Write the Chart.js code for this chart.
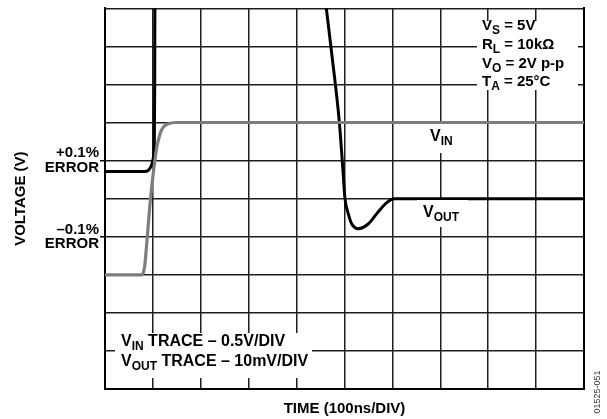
<!DOCTYPE html>
<html>
<head>
<meta charset="utf-8">
<script src="https://cdn.jsdelivr.net/npm/chart.js@4/dist/chart.umd.min.js"></script>
<style>
  html, body { margin: 0; padding: 0; background: #fff; }
  #wrap { width: 607px; height: 419px; }
</style>
</head>
<body>
<div id="wrap"><canvas id="c" width="607" height="419" style="width:607px;height:419px"></canvas></div>
<script>
// Input step (0.5 V/div): time in ns, level in volts
const vinTimeNs = [0, 76, 80, 83, 87, 95, 104, 108, 111, 116, 122, 131, 150, 1000];
const vinVolts  = [-1.0, -1.0, -0.97, -0.88, -0.6, 0, 0.5, 0.67, 0.76, 0.87, 0.94, 0.98, 1.0, 1.0];

// Output settling (10 mV/div): time in ns, error in mV relative to final value
// (values above 50 mV run off the top of the screen)
const voutTimeNs = [0, 83, 90, 95, 98.5, 101, 103, 103.8, 104.1, 104.5,
                    420, 462, 474, 489, 497, 501, 508, 515, 529, 550, 567, 585, 598, 605, 1000];
const voutMv     = [7.1, 7.1, 7.4, 8.2, 9.3, 10.8, 15, 30, 50, 94,
                    94, 50, 37.4, 20.4, 7, 0, -4.0, -6.6, -7.9, -6.6, -4.0, -1.4, -0.2, 0, 0];

// Labels placed on the output axis at the ±0.1% error band
const errorTicks = { '10': ['+0.1%', 'ERROR'], '-10': ['\u20130.1%', 'ERROR'] };

const FONT = '"Liberation Sans", Arial, Helvetica, sans-serif';
const GRID = '#1e1e1e';

function toPoints(xs, ys) { return xs.map((x, i) => ({ x, y: ys[i] })); }

// Draws text made of normal and subscript runs, left-aligned at (x, y) baseline
function richText(ctx, x, y, parts, size) {
  let cx = x;
  for (const [t, sub] of parts) {
    const fs = sub ? Math.round(size * 0.78) : size;
    ctx.font = `bold ${fs}px ${FONT}`;
    ctx.fillText(t, cx, y + (sub ? size * 0.27 : 0));
    cx += ctx.measureText(t).width;
  }
}

const annotations = {
  id: 'annotations',
  afterDatasetsDraw(chart) {
    const ctx = chart.ctx;
    ctx.save();
    // white label panels sitting over the graticule
    ctx.fillStyle = '#fff';
    ctx.fillRect(477, 21, 101, 69);
    ctx.fillRect(115, 333, 197, 45);
    ctx.fillRect(425, 124, 32, 29);
    ctx.fillRect(417, 200, 51, 27);

    ctx.fillStyle = '#000';
    ctx.textBaseline = 'alphabetic';
    ctx.textAlign = 'left';
    richText(ctx, 482, 30, [['V'], ['S', 1], [' = 5V']], 15);
    richText(ctx, 482, 49, [['R'], ['L', 1], [' = 10k\u03A9']], 15);
    richText(ctx, 482, 67.5, [['V'], ['O', 1], [' = 2V p-p']], 15);
    richText(ctx, 482, 86, [['T'], ['A', 1], [' = 25\u00B0C']], 15);

    richText(ctx, 121, 346, [['V'], ['IN', 1], [' TRACE \u2013 0.5V/DIV']], 16);
    richText(ctx, 121, 366, [['V'], ['OUT', 1], [' TRACE \u2013 10mV/DIV']], 16);

    richText(ctx, 430, 141, [['V'], ['IN', 1]], 16);
    richText(ctx, 423, 217, [['V'], ['OUT', 1]], 16);

    // figure number along the right edge
    ctx.translate(598, 392);
    ctx.rotate(-Math.PI / 2);
    ctx.font = `9px ${FONT}`;
    ctx.fillStyle = '#333';
    ctx.textAlign = 'center';
    ctx.textBaseline = 'middle';
    ctx.fillText('01525-051', 0, 0);
    ctx.restore();
  }
};

new Chart(document.getElementById('c'), {
  type: 'line',
  data: {
    datasets: [
      {
        label: 'VIN',
        data: toPoints(vinTimeNs, vinVolts),
        yAxisID: 'yIn',
        borderColor: '#7d7d7d',
        borderWidth: 3.2,
        pointRadius: 0,
        cubicInterpolationMode: 'monotone',
        clip: 0
      },
      {
        label: 'VOUT',
        data: toPoints(voutTimeNs, voutMv),
        yAxisID: 'y',
        borderColor: '#000',
        borderWidth: 3,
        pointRadius: 0,
        cubicInterpolationMode: 'monotone',
        clip: 0
      }
    ]
  },
  options: {
    responsive: false,
    devicePixelRatio: 1,
    animation: false,
    events: [],
    layout: { padding: { top: 7, left: 0, right: 0, bottom: 0 } },
    plugins: { legend: { display: false }, tooltip: { enabled: false } },
    scales: {
      x: {
        type: 'linear',
        position: 'bottom',
        min: 0, max: 1000,
        ticks: { display: false, stepSize: 100 },
        grid: { color: GRID, lineWidth: 1.5, drawTicks: false },
        border: { display: true, color: '#000', width: 2 },
        title: {
          display: true,
          text: 'TIME (100ns/DIV)',
          color: '#000',
          font: { family: FONT, size: 15, weight: 'bold' },
          padding: { top: 0, bottom: 1 }
        },
        afterFit(scale) { scale.height = 30; }
      },
      y: {
        type: 'linear',
        position: 'left',
        min: -50, max: 50,
        ticks: {
          stepSize: 10,
          autoSkip: false,
          padding: 1,
          color: '#000',
          font: { family: FONT, size: 15, weight: 'bold', lineHeight: 0.97 },
          callback: (v) => errorTicks[String(v)] || ''
        },
        grid: {
          color: GRID,
          lineWidth: 1.5,
          tickLength: 5,
          tickColor: (c) => (c.tick && errorTicks[String(c.tick.value)]) ? '#000' : 'rgba(0,0,0,0)'
        },
        border: { display: true, color: '#000', width: 2 },
        title: {
          display: true,
          text: 'VOLTAGE (V)',
          color: '#000',
          font: { family: FONT, size: 15, weight: 'bold' },
          padding: { top: 12, bottom: 0 }
        },
        afterFit(scale) { scale.width = 105; }
      },
      yIn: {
        type: 'linear',
        position: 'right',
        min: -2.5, max: 2.5,
        ticks: { display: false },
        grid: { drawOnChartArea: false, drawTicks: false },
        border: { display: true, color: '#000', width: 2 },
        afterFit(scale) { scale.width = 23; }
      }
    }
  },
  plugins: [annotations]
});
</script>
</body>
</html>
